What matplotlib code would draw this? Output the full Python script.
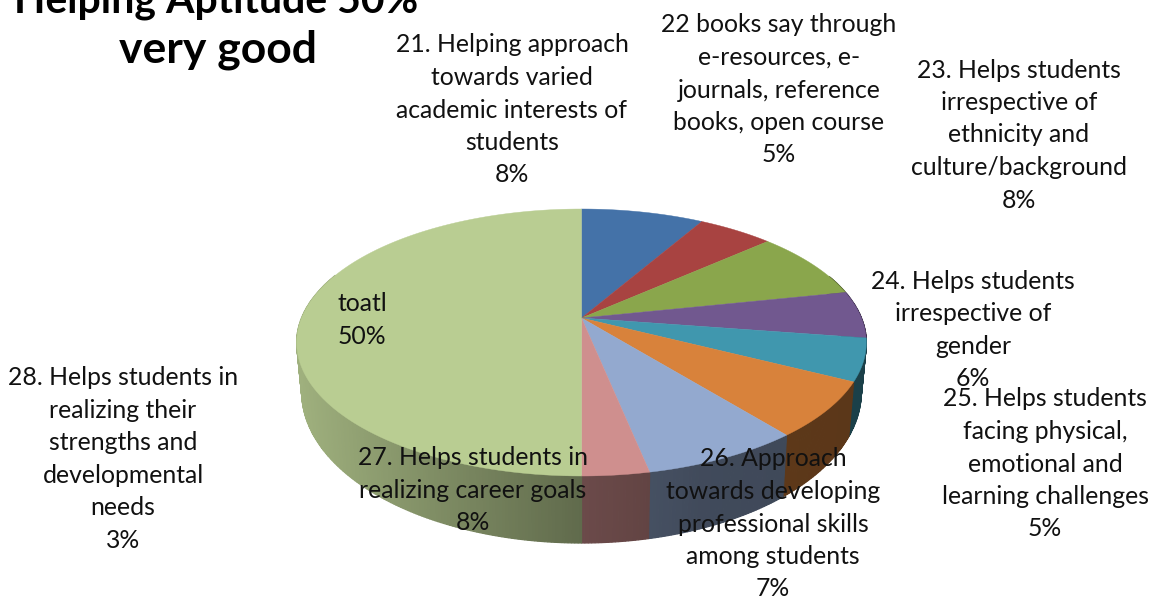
import numpy as np
import matplotlib
matplotlib.use('Agg')
import matplotlib.pyplot as plt

# shares, clockwise from 12 o'clock
slice_pct = [8.3, 5.1, 8.3, 5.7, 5.1, 6.7, 7.6, 3.2, 50.0]
pct_labels = ['8%', '5%', '8%', '6%', '5%', '7%', '8%', '3%', '50%']
slice_labels = [
    '21. Helping approach\ntowards varied\nacademic interests of\nstudents',
    '22 books say through\ne-resources, e-\njournals, reference\nbooks, open course',
    '23. Helps students\nirrespective of\nethnicity and\nculture/background',
    '24. Helps students\nirrespective of\ngender',
    '25. Helps students\nfacing physical,\nemotional and\nlearning challenges',
    '26. Approach\ntowards developing\nprofessional skills\namong students',
    '27. Helps students in\nrealizing career goals',
    '28. Helps students in\nrealizing their\nstrengths and\ndevelopmental\nneeds',
    'toatl',
]
slice_colors = ['#4472A8', '#A84341', '#8AA64C', '#71588F', '#4097AE',
                '#D8823B', '#93A9CF', '#CF8F8E', '#B9CD92']
label_pos = [(512, 110), (779, 90), (1019, 135), (973, 330), (1045, 464),
             (773, 524), (473, 490), (123, 459), (362, 320)]
title_line1 = 'Helping Aptitude 50%'
title_line2 = 'very good'

FONT = 'Lato'
KK = 0.1835  # perspective of the disc


def project(theta, cx, cy, a, b):
    s, c = np.sin(theta), np.cos(theta)
    w = 1 + KK * c
    return cx + a * s / w, cy - b * c / w


def top_pt(theta):
    return project(theta, 581.5, 318, 280, 129)


def bottom_pt(theta):
    return project(theta, 581.5, 364.3, 275, 145.9)


def side_color(color, x):
    f = np.interp(x, [297, 440, 581, 700, 870], [0.86, 0.68, 0.52, 0.44, 0.42])
    return tuple(np.array(matplotlib.colors.to_rgb(color)) * f)


fig = plt.figure(figsize=(11.58, 6), dpi=100)
ax = fig.add_axes([0, 0, 1, 1])
ax.set_xlim(0, 1158)
ax.set_ylim(600, 0)
ax.axis('off')

edges = np.cumsum([0] + slice_pct) / sum(slice_pct) * 2 * np.pi

# side wall first, cut in thin strips for the shading
for i, color in enumerate(slice_colors):
    n = max(int((edges[i + 1] - edges[i]) / 0.01), 2)
    th = np.linspace(edges[i], edges[i + 1], n + 1)
    for t0, t1 in zip(th[:-1], th[1:]):
        if np.cos(t0) > 0.35:
            continue
        x0, y0 = top_pt(t0)
        x1, y1 = top_pt(t1)
        x2, y2 = bottom_pt(t1)
        x3, y3 = bottom_pt(t0)
        c = side_color(color, (x0 + x1) / 2)
        ax.fill([x0, x1, x2, x3], [y0, y1, y2, y3], color=c, lw=0.9, zorder=1)

# top face
for i, color in enumerate(slice_colors):
    th = np.linspace(edges[i], edges[i + 1], 120)
    xs, ys = top_pt(th)
    ax.fill(np.r_[581.5, xs], np.r_[318, ys], color=color, lw=0.3, zorder=2)

for label, pct, (x, y) in zip(slice_labels, pct_labels, label_pos):
    ax.text(x, y, label + '\n' + pct, ha='center', va='center', fontsize=17.8,
            family=FONT, color='#111111', linespacing=1.5, zorder=3)

ax.text(216, 13, title_line1, ha='center', va='baseline', fontsize=29.5,
        family=FONT, fontweight='bold', color='black', zorder=3)
ax.text(218, 63, title_line2, ha='center', va='baseline', fontsize=32,
        family=FONT, fontweight='bold', color='black', zorder=3)

fig.savefig('out.png', dpi=100)
